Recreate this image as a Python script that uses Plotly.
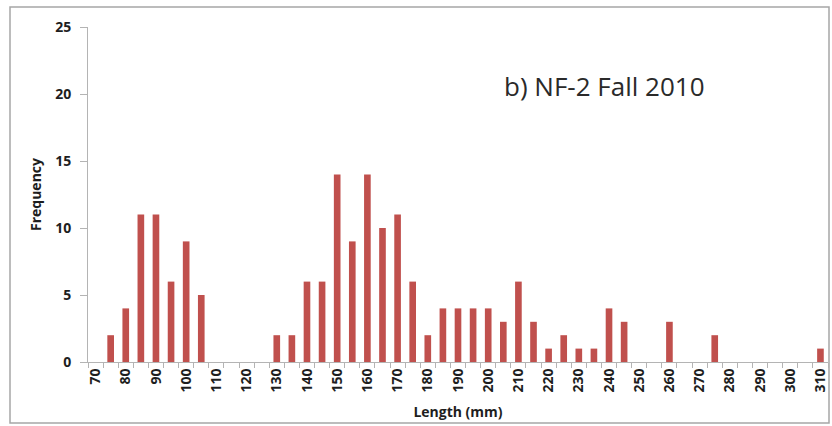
import plotly.graph_objects as go

# Length classes (mm), 5 mm bins
lengths = list(range(70, 315, 5))
frequency = [0, 2, 4, 11, 11, 6, 9, 5, 0, 0,
             0, 0, 2, 2, 6, 6, 14, 9, 14, 10,
             11, 6, 2, 4, 4, 4, 4, 3, 6, 3,
             1, 2, 1, 1, 4, 3, 0, 0, 3, 0,
             0, 2, 0, 0, 0, 0, 0, 0, 1]
categories = [str(v) for v in lengths]
tick_labels = [str(v) if v % 10 == 0 else "" for v in lengths]
y_ticks = [0, 5, 10, 15, 20, 25]

W, H = 832, 426
L, R, T, B = 88, 4, 27, 64

fig = go.Figure(go.Bar(
    x=categories, y=frequency,
    marker=dict(color="#c0504d", line=dict(width=0)),
))

tick_font = dict(family="Open Sans", size=14, color="#1e1e1e", weight="bold")
title_font = dict(family="Open Sans", size=14, color="#1e1e1e", weight="bold")

fig.update_layout(
    width=W, height=H,
    margin=dict(l=L, r=R, t=T, b=B),
    paper_bgcolor="white", plot_bgcolor="white",
    bargap=0.56,
    showlegend=False,
    font=dict(family="Open Sans"),
    xaxis=dict(
        type="category",
        tickmode="array", tickvals=categories, ticktext=tick_labels,
        tickson="boundaries", ticks="outside", ticklen=5,
        tickcolor="#b4b4b4", tickwidth=1,
        showline=True, linecolor="#b4b4b4", linewidth=1,
        showgrid=False, zeroline=False,
        tickangle=-90, tickfont=tick_font,
        title=dict(text="Length (mm)", font=title_font, standoff=15),
    ),
    yaxis=dict(
        range=[0, 25], tickmode="array", tickvals=y_ticks,
        ticks="outside", ticklen=7, tickcolor="#b4b4b4", tickwidth=1,
        showline=True, linecolor="#b4b4b4", linewidth=1,
        showgrid=False, zeroline=False,
        tickfont=tick_font, ticklabelstandoff=6,
        title=dict(text="Frequency", font=title_font, standoff=10),
    ),
    annotations=[dict(
        text="b) NF-2 Fall 2010", xref="paper", yref="paper",
        x=(502 - L) / (W - L - R), y=1 - (86 - T) / (H - T - B),
        xanchor="left", yanchor="middle", showarrow=False,
        font=dict(family="Open Sans", size=26, color="#2a2a2a"),
    )],
    shapes=[dict(
        type="rect", xref="paper", yref="paper",
        x0=(10 - L) / (W - L - R), x1=(829 - L) / (W - L - R),
        y0=1 - (423 - T) / (H - T - B), y1=1 - (7 - T) / (H - T - B),
        line=dict(color="#a6a6a6", width=1.5), layer="below",
    )],
)

fig.write_html("out.html")
